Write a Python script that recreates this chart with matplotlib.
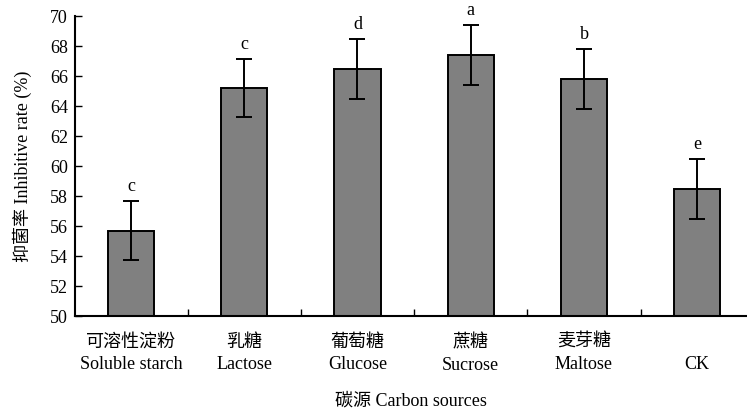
import matplotlib
matplotlib.use('Agg')
import matplotlib.pyplot as plt
from matplotlib.ticker import FixedLocator

plt.rcParams['font.family'] = ['Liberation Serif', 'Noto Sans CJK SC']

# ── data ─────────────────────────────────────────────────────────────────────
labels_cn = ['可溶性淀粉', '乳糖', '葡萄糖', '蔗糖', '麦芽糖', '']
labels_en = ['Soluble starch', 'Lactose', 'Glucose', 'Sucrose', 'Maltose', 'CK']
rates = [55.7, 65.2, 66.5, 67.4, 65.8, 58.5]
errors = [1.95, 1.95, 2.0, 2.0, 2.0, 2.0]
letters = ['c', 'c', 'd', 'a', 'b', 'e']

fig = plt.figure(figsize=(7.47, 4.12), dpi=100)
ax = fig.add_axes([0.1004, 0.233, 0.8996, 0.728])

x = list(range(len(rates)))
ax.bar(x, [r - 50 for r in rates], bottom=50, width=0.41, color='#808080',
       edgecolor='black', linewidth=1.4, zorder=2)
ax.errorbar(x, rates, yerr=errors, fmt='none', ecolor='black',
            elinewidth=1.4, capsize=6, capthick=1.4, zorder=3)
for xi, r, e, t in zip(x, rates, errors, letters):
    ax.text(xi, r + e + 0.4, t, ha='center', va='bottom', fontsize=13)

ax.set_xlim(-0.495, 5.44)
ax.set_ylim(50, 70)
ax.set_yticks(range(50, 71, 2))
ax.set_xticks(x)
ax.set_xticklabels(['\n'.join(p) if p[0] else '\n' + p[1]
                    for p in zip(labels_cn, labels_en)],
                   fontsize=13, linespacing=1.4)
ax.xaxis.set_minor_locator(FixedLocator([0.5, 1.5, 2.5, 3.5, 4.5]))
ax.tick_params(axis='x', which='major', length=0, pad=13)
ax.tick_params(axis='x', which='minor', direction='in', length=5, width=1)
ax.tick_params(axis='y', direction='in', length=5, width=1, labelsize=13,
               pad=5)
for s in ('top', 'right'):
    ax.spines[s].set_visible(False)
for s in ('left', 'bottom'):
    ax.spines[s].set_linewidth(1.5)

ax.set_ylabel('抑菌率 Inhibitive rate (%)', fontsize=13, labelpad=13)
ax.set_xlabel('碳源 Carbon sources', fontsize=13, labelpad=14)

fig.savefig('out.png', dpi=100)
